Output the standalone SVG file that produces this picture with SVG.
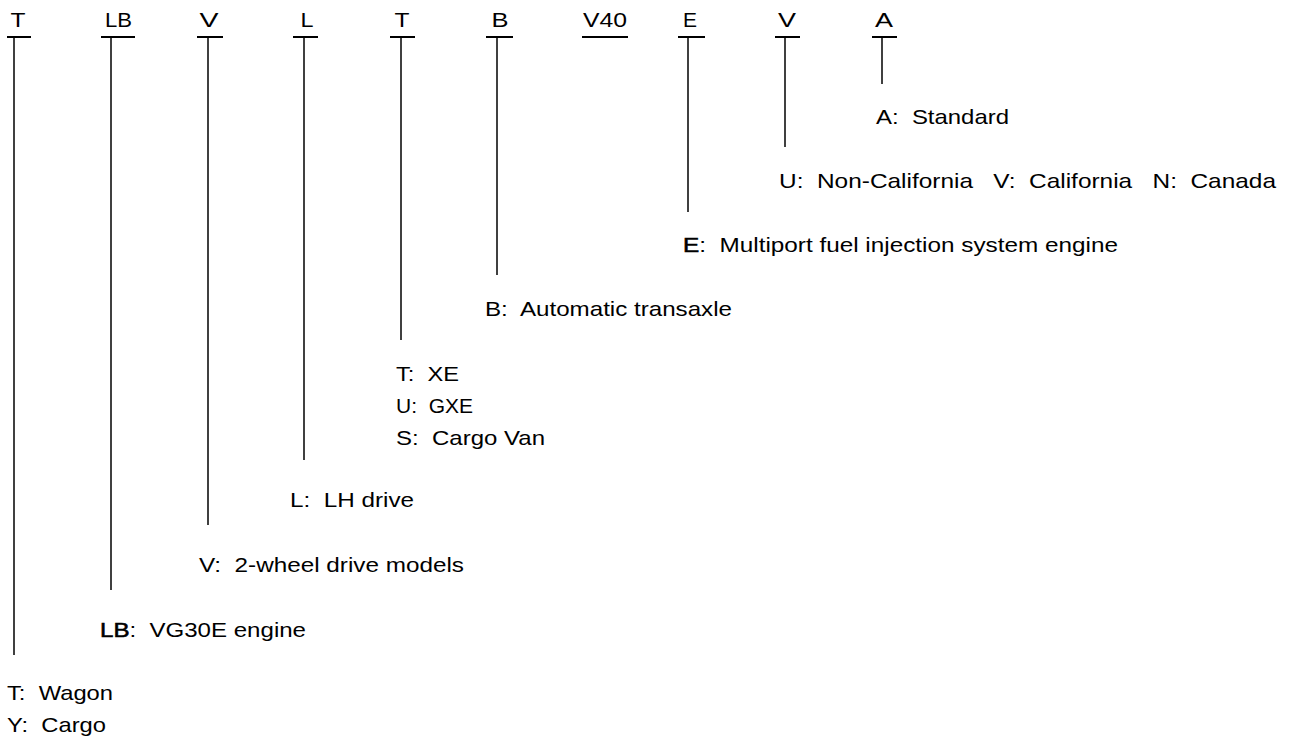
<svg xmlns="http://www.w3.org/2000/svg" width="1289" height="741" viewBox="0 0 1289 741">
<style>
text{font-family:"Liberation Sans",Arial,sans-serif;fill:#000;white-space:pre}
.h{font-size:21px;text-anchor:middle}
.l{font-size:21px}
.bar{stroke:#000;stroke-width:2}
.v{stroke:#000;stroke-width:1.5}
.b{stroke:#000;stroke-width:0.6}
</style>
<rect width="1289" height="741" fill="#fff"/>
<g id="connectors">
<line class="v" x1="14" y1="37" x2="14" y2="655"/>
<line class="v" x1="111" y1="37" x2="111" y2="590"/>
<line class="v" x1="208" y1="37" x2="208" y2="525"/>
<line class="v" x1="304" y1="37" x2="304" y2="460"/>
<line class="v" x1="401" y1="37" x2="401" y2="340"/>
<line class="v" x1="497" y1="37" x2="497" y2="275"/>
<line class="v" x1="688" y1="37" x2="688" y2="212"/>
<line class="v" x1="785" y1="37" x2="785" y2="147"/>
<line class="v" x1="882" y1="37" x2="882" y2="84"/>
</g>
<g id="n-body">
<text class="h" x="18" y="27" textLength="15" lengthAdjust="spacingAndGlyphs">T</text>
<line class="bar" x1="7" y1="37" x2="31" y2="37"/>
<text class="l" x="7" y="700" textLength="106" lengthAdjust="spacingAndGlyphs">T:  Wagon</text>
<text class="l" x="7" y="732" textLength="99" lengthAdjust="spacingAndGlyphs">Y:  Cargo</text>
</g>
<g id="n-engine">
<text class="h" x="118.5" y="27" textLength="27" lengthAdjust="spacingAndGlyphs">LB</text>
<line class="bar" x1="101" y1="37" x2="135" y2="37"/>
<text class="l" x="100" y="637" textLength="206" lengthAdjust="spacingAndGlyphs"><tspan class="b">LB</tspan>:  VG30E engine</text>
</g>
<g id="n-drive">
<text class="h" x="209" y="27" textLength="19" lengthAdjust="spacingAndGlyphs">V</text>
<line class="bar" x1="197" y1="37" x2="223" y2="37"/>
<text class="l" x="199" y="572" textLength="265" lengthAdjust="spacingAndGlyphs">V:  2-wheel drive models</text>
</g>
<g id="n-steering">
<text class="h" x="307" y="27" textLength="13" lengthAdjust="spacingAndGlyphs">L</text>
<line class="bar" x1="293" y1="37" x2="318" y2="37"/>
<text class="l" x="290" y="507" textLength="124" lengthAdjust="spacingAndGlyphs">L:  LH drive</text>
</g>
<g id="n-grade">
<text class="h" x="402" y="27" textLength="15" lengthAdjust="spacingAndGlyphs">T</text>
<line class="bar" x1="390" y1="37" x2="415" y2="37"/>
<text class="l" x="396" y="381" textLength="63" lengthAdjust="spacingAndGlyphs">T:  XE</text>
<text class="l" x="396" y="413" textLength="77" lengthAdjust="spacingAndGlyphs">U:  GXE</text>
<text class="l" x="396" y="445" textLength="149" lengthAdjust="spacingAndGlyphs">S:  Cargo Van</text>
</g>
<g id="n-transaxle">
<text class="h" x="500" y="27" textLength="17" lengthAdjust="spacingAndGlyphs">B</text>
<line class="bar" x1="486" y1="37" x2="513" y2="37"/>
<text class="l" x="485" y="316" textLength="247" lengthAdjust="spacingAndGlyphs">B:  Automatic transaxle</text>
</g>
<g id="n-model">
<text class="h" x="605" y="27" textLength="44" lengthAdjust="spacingAndGlyphs">V40</text>
<line class="bar" x1="582" y1="37" x2="628" y2="37"/>
</g>
<g id="n-fuel">
<text class="h" x="690" y="27" textLength="14" lengthAdjust="spacingAndGlyphs">E</text>
<line class="bar" x1="678" y1="37" x2="705" y2="37"/>
<text class="l" x="683" y="252" textLength="435" lengthAdjust="spacingAndGlyphs"><tspan class="b">E</tspan>:  Multiport fuel injection system engine</text>
</g>
<g id="n-market">
<text class="h" x="787" y="27" textLength="18" lengthAdjust="spacingAndGlyphs">V</text>
<line class="bar" x1="775" y1="37" x2="800" y2="37"/>
<text class="l" x="779" y="188" textLength="497" lengthAdjust="spacingAndGlyphs">U:  Non-California   V:  California   N:  Canada</text>
</g>
<g id="n-spec">
<text class="h" x="884" y="27" textLength="18" lengthAdjust="spacingAndGlyphs">A</text>
<line class="bar" x1="872" y1="37" x2="897" y2="37"/>
<text class="l" x="876" y="124" textLength="133" lengthAdjust="spacingAndGlyphs">A:  Standard</text>
</g>
</svg>
